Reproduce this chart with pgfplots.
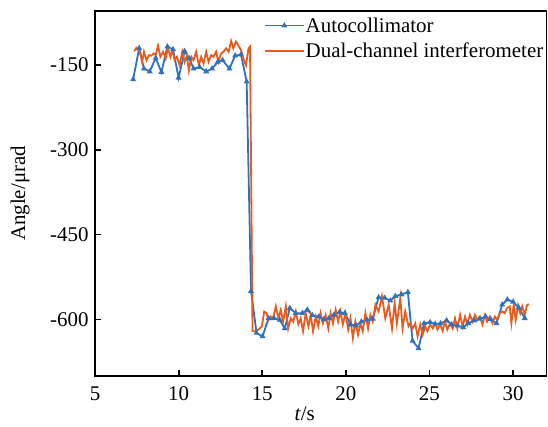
\documentclass[border=0pt]{standalone}
\usepackage{pgfplots}
\pgfplotsset{compat=1.18}
\usepackage{fontspec}
\setmainfont{Liberation Serif}
\definecolor{cblue}{RGB}{46,114,190}
\definecolor{corange}{RGB}{230,92,32}
\begin{document}
\begin{tikzpicture}
\begin{axis}[
  scale only axis,
  width=451.5bp, height=365bp,
  xmin=5, xmax=32, ymin=-700, ymax=-55,
  xtick={5,10,15,20,25,30},
  ytick={-600,-450,-300,-150},
  xticklabels={5,10,15,20,25,30},
  yticklabels={-600,-450,-300,-150},
  tick align=inside, xtick pos=bottom, ytick pos=left,
  major tick length=6bp,
  every tick/.style={black, line width=1.8bp},
  axis line style={black, line width=1.8bp},
  tick label style={font=\fontsize{21}{21}\selectfont},
  xticklabel style={yshift=-7bp},
  yticklabel style={xshift=-3bp},
  label style={font=\fontsize{21}{21}\selectfont},
  xlabel={\textit{t}/s},
  ylabel={Angle/μrad},
  xlabel style={at={(axis description cs:0.4646,-0.103)}, anchor=center},
  ylabel style={at={(axis description cs:-0.166,0.5)}, anchor=center},
  legend style={at={(axis cs:32,-61)}, anchor=north east, draw=none, fill=none,
    font=\fontsize{21}{21}\selectfont, row sep=7bp, inner sep=2bp,
    nodes={inner sep=1bp}},
  legend cell align=left,
  legend image code/.code={\draw[mark repeat=2,mark phase=2,#1] plot coordinates {(0bp,0bp) (19.5bp,0bp) (39bp,0bp)};},
]
\addplot[cblue, line width=1.8bp, mark=triangle*, mark size=1.7bp, mark options={solid}] coordinates {
(7.28,-176) (7.64,-121) (7.93,-157) (8.27,-162) (8.63,-138) (8.97,-163)
(9.33,-118) (9.67,-123) (10.00,-173) (10.36,-126) (10.65,-139) (10.89,-157)
(11.25,-154) (11.65,-162) (12.00,-157) (12.34,-145) (12.63,-142) (13.04,-157)
(13.38,-134) (13.73,-132) (14.07,-180) (14.33,-550) (14.66,-624) (15.02,-630)
(15.38,-598) (15.71,-598) (16.05,-601) (16.35,-616) (16.65,-580) (17.00,-589)
(17.40,-589) (17.70,-583) (18.00,-593) (18.39,-595) (18.69,-600) (18.99,-598)
(19.29,-592) (19.63,-587) (19.94,-589) (20.28,-609) (20.61,-611) (20.93,-604)
(21.27,-601) (21.61,-599) (21.96,-561) (22.32,-562) (22.66,-567) (22.96,-559)
(23.32,-556) (23.71,-552) (23.99,-638) (24.35,-651) (24.68,-607) (25.04,-605)
(25.34,-608) (25.67,-607) (26.03,-602) (26.33,-609) (26.68,-611) (27.02,-614)
(27.32,-607) (27.68,-602) (28.02,-599) (28.35,-595) (28.67,-600) (29.01,-607)
(29.35,-574) (29.66,-565) (30.00,-569) (30.34,-579) (30.70,-598)
};
\addlegendentry{Autocollimator}
\addplot[corange, line width=1.8bp] coordinates {
(7.34,-126) (7.48,-120) (7.68,-127) (7.82,-145) (7.93,-127) (8.08,-142)
(8.23,-133) (8.38,-134) (8.51,-130) (8.63,-133) (8.77,-116) (8.91,-136)
(9.07,-127) (9.23,-139) (9.36,-120) (9.51,-136) (9.63,-124) (9.76,-142)
(9.90,-136) (10.06,-151) (10.22,-127) (10.36,-145) (10.49,-134) (10.61,-160)
(10.76,-136) (10.89,-142) (11.05,-127) (11.21,-151) (11.35,-136) (11.49,-148)
(11.65,-127) (11.79,-145) (11.95,-133) (12.08,-136) (12.24,-127) (12.38,-145)
(12.54,-130) (12.68,-127) (12.84,-121) (12.99,-127) (13.14,-108) (13.27,-121)
(13.43,-109) (13.57,-116) (13.73,-124) (13.87,-139) (14.03,-151) (14.18,-121)
(14.27,-118) (14.42,-621) (14.58,-621) (14.78,-618) (14.98,-612) (15.12,-586)
(15.26,-589) (15.38,-601) (15.52,-595) (15.65,-598) (15.81,-577) (15.97,-598)
(16.11,-583) (16.25,-604) (16.41,-577) (16.55,-616) (16.71,-598) (16.85,-604)
(17.01,-586) (17.16,-609) (17.30,-598) (17.44,-621) (17.60,-589) (17.76,-612)
(17.90,-592) (18.04,-621) (18.20,-595) (18.35,-612) (18.49,-589) (18.63,-607)
(18.79,-592) (18.95,-616) (19.09,-589) (19.23,-607) (19.39,-583) (19.54,-604)
(19.68,-586) (19.82,-609) (19.98,-589) (20.14,-618) (20.28,-598) (20.42,-633)
(20.57,-604) (20.73,-627) (20.87,-607) (21.01,-621) (21.17,-589) (21.33,-616)
(21.47,-592) (21.61,-604) (21.77,-574) (21.96,-586) (22.16,-559) (22.36,-598)
(22.56,-574) (22.76,-616) (22.92,-571) (23.05,-607) (23.26,-562) (23.39,-616)
(23.55,-586) (23.75,-612) (23.85,-607) (24.00,-616) (24.15,-607) (24.29,-630)
(24.45,-609) (24.60,-627) (24.74,-612) (24.88,-621) (25.04,-609) (25.20,-616)
(25.34,-607) (25.48,-618) (25.64,-609) (25.79,-620) (25.93,-604) (26.07,-618)
(26.23,-607) (26.39,-616) (26.53,-598) (26.67,-616) (26.83,-592) (26.98,-612)
(27.13,-595) (27.26,-609) (27.42,-592) (27.58,-604) (27.72,-592) (27.86,-601)
(28.02,-595) (28.17,-609) (28.32,-592) (28.45,-604) (28.61,-595) (28.77,-607)
(28.91,-595) (29.05,-601) (29.21,-589) (29.36,-586) (29.50,-589) (29.64,-580)
(29.80,-577) (29.90,-607) (30.04,-574) (30.16,-601) (30.30,-575) (30.43,-589)
(30.55,-577) (30.70,-592) (30.83,-575) (30.95,-573)
};
\addlegendentry{Dual-channel interferometer}
\end{axis}
\path (current axis.south west) ++(-95bp,-51bp) coordinate (bbA);
\path (current axis.north east) ++(1.5bp,11bp) coordinate (bbB);
\path (bbA) rectangle (bbB);
\end{tikzpicture}
\end{document}
